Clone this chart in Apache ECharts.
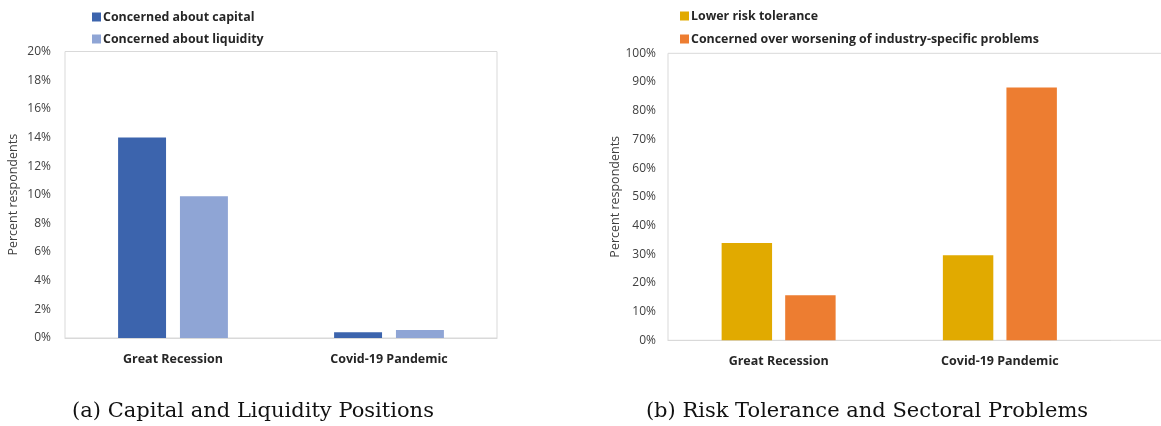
<!DOCTYPE html>
<html>
<head>
<meta charset="utf-8">
<script src="https://cdn.jsdelivr.net/npm/echarts@6/dist/echarts.min.js"></script>
<style>html,body{margin:0;padding:0;background:#fff;}#c{width:1161px;height:426px;}</style>
</head>
<body>
<div id="c"></div>
<script>
const categories = ['Great Recession', 'Covid-19 Pandemic'];
const capital = [0.140, 0.004];
const liquidity = [0.099, 0.0055];
const riskTol = [0.339, 0.296];
const industry = [0.157, 0.881];
const leftTicks = [0, 0.02, 0.04, 0.06, 0.08, 0.10, 0.12, 0.14, 0.16, 0.18, 0.20];
const rightTicks = [0, 0.1, 0.2, 0.3, 0.4, 0.5, 0.6, 0.7, 0.8, 0.9, 1.0];

const sansFont = 'Open Sans';
const pct = v => Math.round(v * 100) + '%';
const chart = echarts.init(document.getElementById('c'));
const gridLine = '#d9d9d9';

function yAxis(idx, ticks, margin) {
  return {
    type: 'value', gridIndex: idx,
    min: ticks[0], max: ticks[ticks.length - 1], interval: ticks[1] - ticks[0],
    name: 'Percent respondents', nameLocation: 'middle', nameGap: 45,
    nameTextStyle: { fontFamily: sansFont, fontSize: 12.5, color: '#404040' },
    axisLine: { show: false }, axisTick: { show: false },
    splitLine: { show: false },
    axisLabel: { formatter: pct, fontFamily: sansFont, fontSize: 12, color: '#404040', margin: margin }
  };
}
function xAxis(idx) {
  return {
    type: 'category', gridIndex: idx, data: categories,
    axisLine: { show: true, lineStyle: { color: gridLine, width: 1 } },
    axisTick: { show: false },
    axisLabel: { fontFamily: sansFont, fontSize: 12.5, fontWeight: 'bold', color: '#262626', margin: 15 }
  };
}
const legendText = { fontFamily: sansFont, fontSize: 12.4, fontWeight: 'bold', color: '#262626', padding: [0, 0, 0, -3] };

chart.setOption({
  animation: false,
  backgroundColor: '#fff',
  grid: [
    { left: 65, top: 51.5, width: 432, height: 286.5, show: true, borderColor: gridLine, borderWidth: 1 },
    { left: 668, top: 53.3, width: 442.5, height: 287 }
  ],
  graphic: [
    { type: 'polyline', shape: { points: [[668, 340.3], [668, 53.3], [1162, 53.3]] }, style: { stroke: gridLine, fill: null, lineWidth: 1 }, z: 0 },
    { type: 'line', shape: { x1: 668, y1: 340.3, x2: 1162, y2: 340.3 }, style: { stroke: gridLine, lineWidth: 1 }, z: 0 }
  ],
  legend: [
    { orient: 'vertical', left: 87, top: 6, itemWidth: 9, itemHeight: 9, itemGap: 10,
      icon: 'rect', data: ['Concerned about capital', 'Concerned about liquidity'],
      textStyle: legendText },
    { orient: 'vertical', left: 675, top: 5, itemWidth: 9, itemHeight: 9, itemGap: 11,
      icon: 'rect', data: ['Lower risk tolerance', 'Concerned over worsening of industry-specific problems'],
      textStyle: legendText }
  ],
  title: [
    { text: '(a) Capital and Liquidity Positions', left: 248, top: 396, textAlign: 'center',
      textStyle: { fontFamily: 'DejaVu Serif', fontSize: 21, fontWeight: 'normal', color: '#111' } },
    { text: '(b) Risk Tolerance and Sectoral Problems', left: 862, top: 396, textAlign: 'center',
      textStyle: { fontFamily: 'DejaVu Serif', fontSize: 21, fontWeight: 'normal', color: '#111' } }
  ],
  xAxis: [xAxis(0), xAxis(1)],
  yAxis: [yAxis(0, leftTicks, 14), yAxis(1, rightTicks, 12)],
  series: [
    { name: 'Concerned about capital', type: 'bar', xAxisIndex: 0, yAxisIndex: 0, data: capital,
      barWidth: '22.2%', barGap: '29%', itemStyle: { color: '#3c64ad' } },
    { name: 'Concerned about liquidity', type: 'bar', xAxisIndex: 0, yAxisIndex: 0, data: liquidity,
      barWidth: '22.2%', barGap: '29%', itemStyle: { color: '#8fa5d5' } },
    { name: 'Lower risk tolerance', type: 'bar', xAxisIndex: 1, yAxisIndex: 1, data: riskTol,
      barWidth: '22.8%', barGap: '26%', itemStyle: { color: '#e1aa00' } },
    { name: 'Concerned over worsening of industry-specific problems', type: 'bar', xAxisIndex: 1, yAxisIndex: 1, data: industry,
      barWidth: '22.8%', barGap: '26%', itemStyle: { color: '#ed7d31' } }
  ]
});
</script>
</body>
</html>
